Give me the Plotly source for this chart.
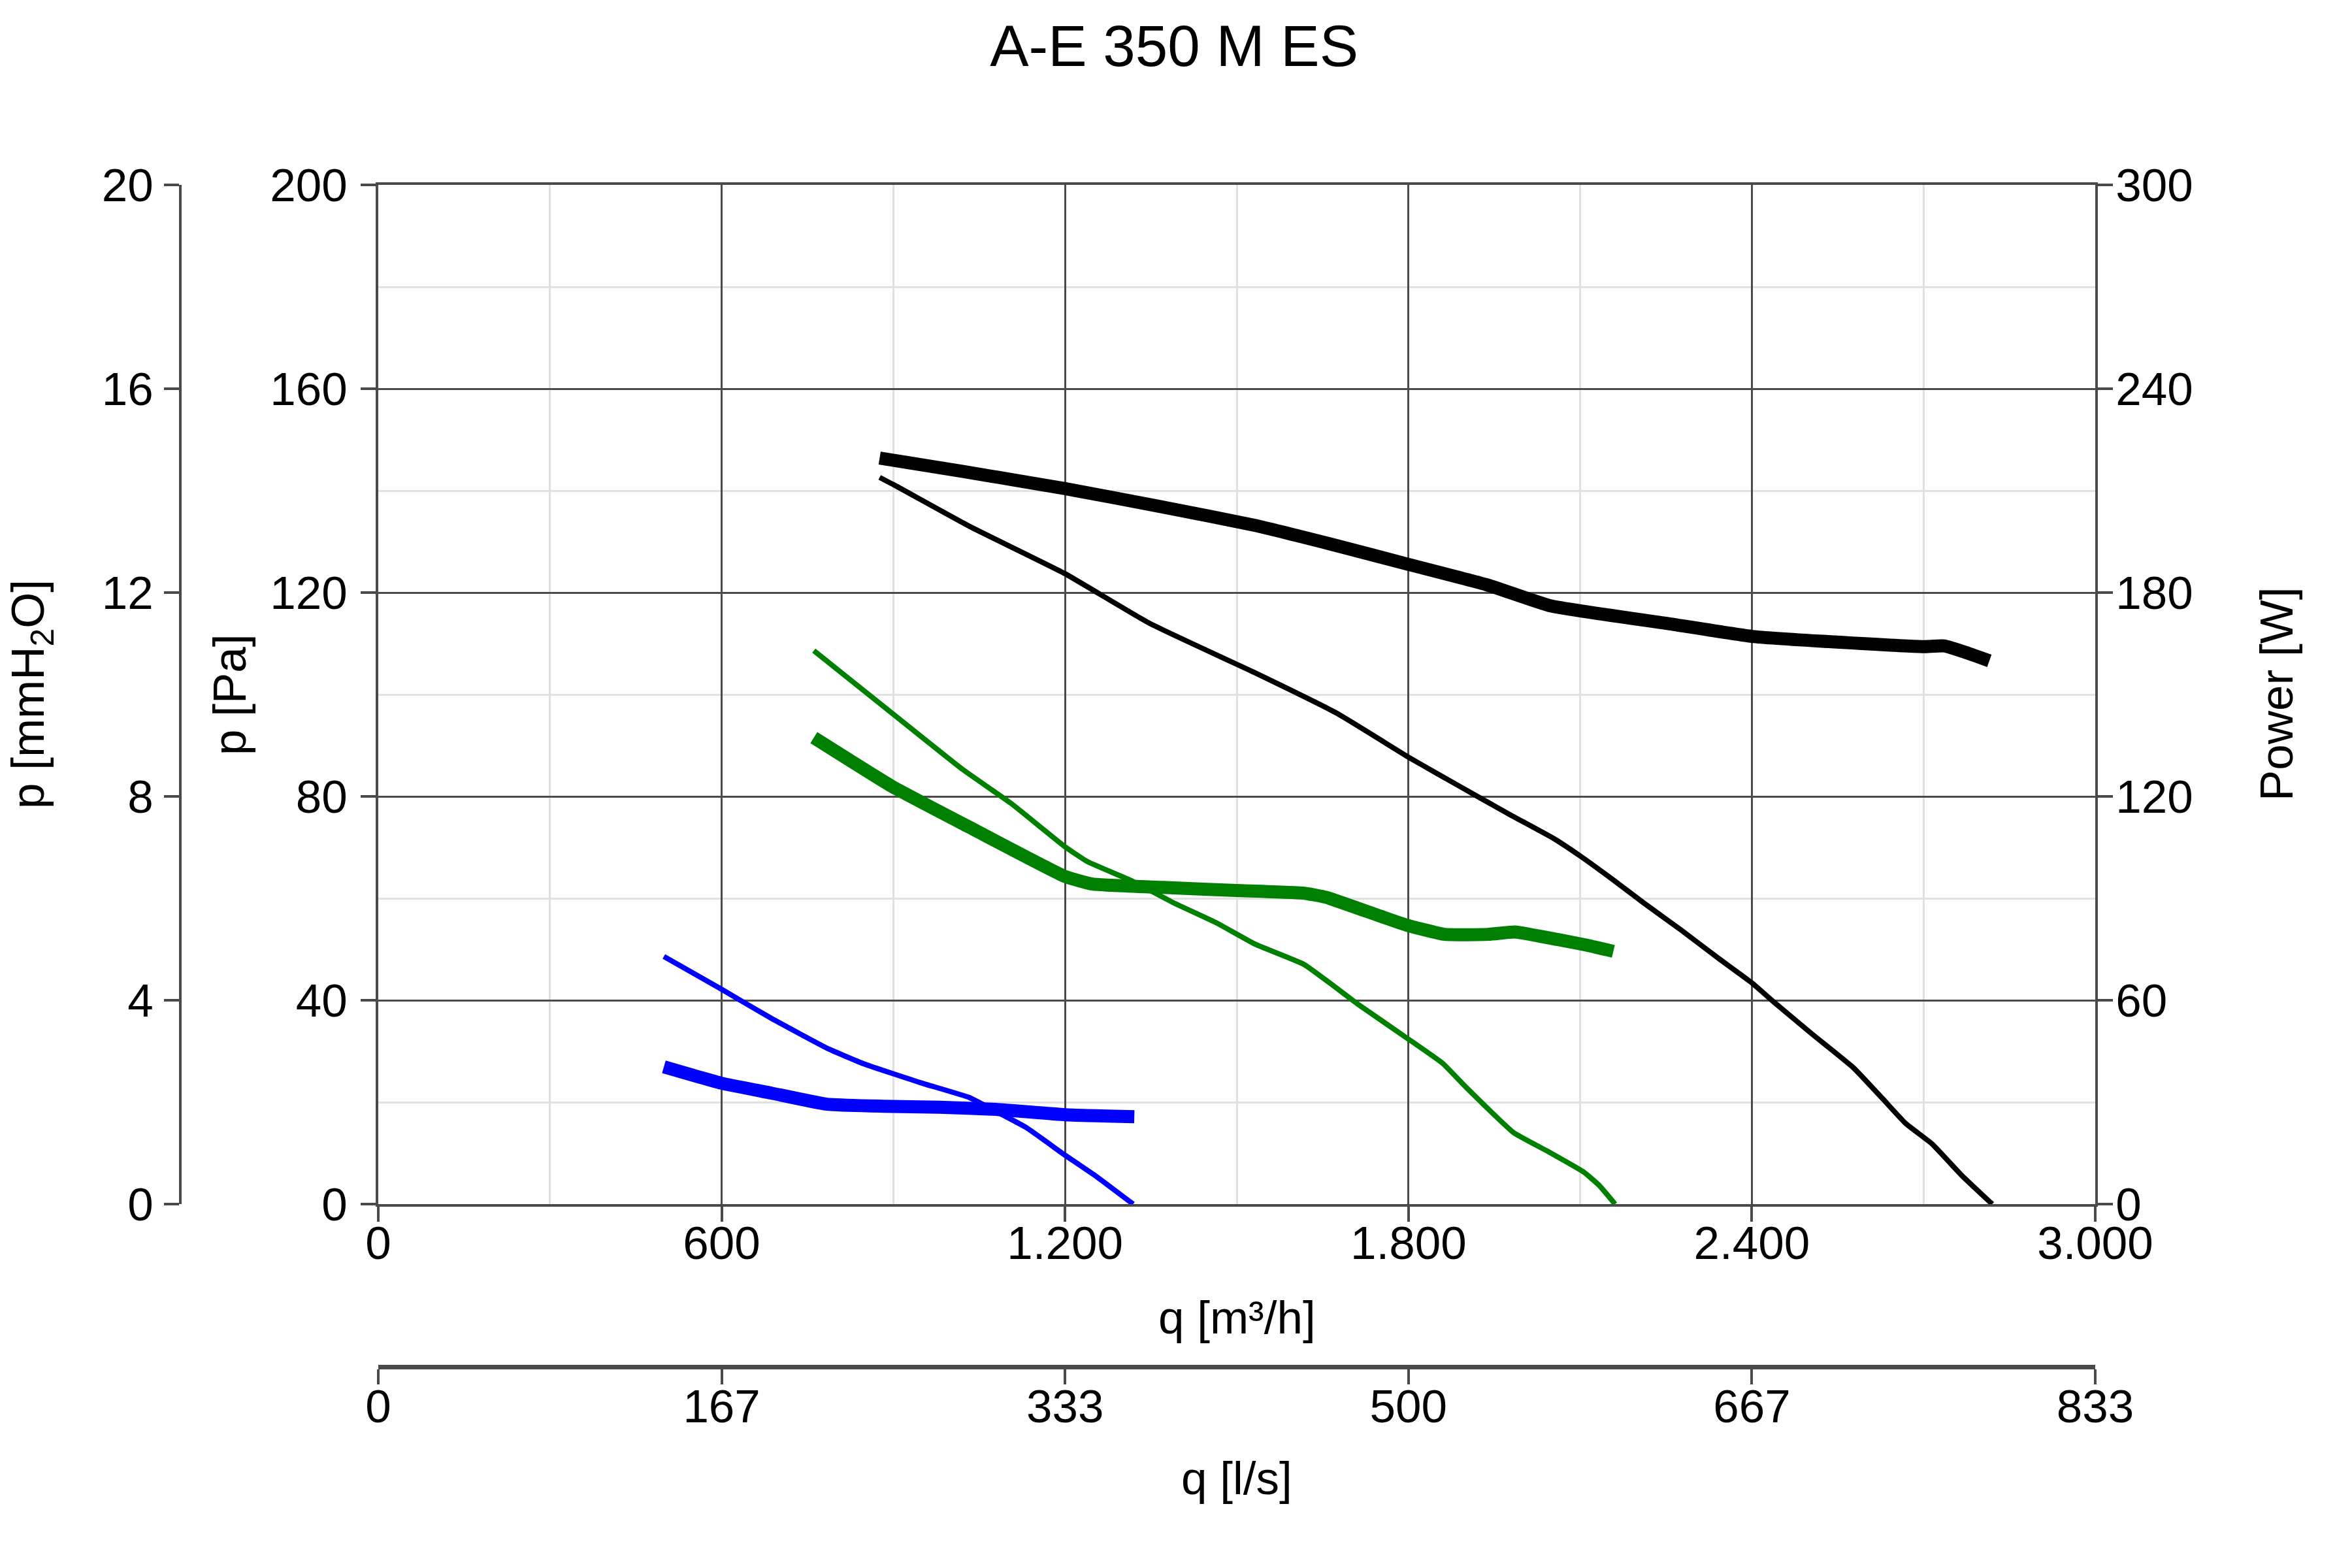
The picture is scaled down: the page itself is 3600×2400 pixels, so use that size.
import plotly.graph_objects as go

# ---------------- data ----------------
title_text = "A-E 350 M ES"

# thin curves: static pressure [Pa] vs flow [m3/h]
black_p_q = [876, 900, 1033, 1200, 1347, 1531, 1675, 1800, 1850, 1922, 1981, 2053, 2099,
             2152, 2211, 2276, 2342, 2399, 2440, 2506, 2578, 2630, 2669, 2715, 2767, 2820]
black_p = [142.6, 141.2, 133.0, 123.7, 114.0, 104.3, 96.3, 87.7, 84.5, 79.9, 76.2, 71.8, 68.4,
           64.1, 59.1, 53.8, 48.2, 43.5, 39.5, 33.3, 26.7, 20.5, 15.8, 11.8, 5.6, 0.0]

green_p_q = [761, 898, 1021, 1106, 1199, 1239, 1315, 1390, 1466, 1532, 1618, 1712, 1797,
             1860, 1900, 1984, 2046, 2106, 2133, 2161]
green_p = [108.6, 96.3, 85.3, 78.6, 70.2, 67.2, 63.5, 59.1, 55.1, 51.0, 47.0, 39.2, 32.6,
           27.6, 23.0, 14.0, 10.2, 6.3, 3.7, 0.0]

blue_p_q = [499, 599, 686, 784, 849, 948, 1033, 1079, 1131, 1200, 1255, 1319]
blue_p = [48.6, 42.2, 36.5, 30.6, 27.5, 23.8, 20.9, 18.2, 15.1, 9.6, 5.4, 0.0]

# thick curves: absorbed power [W] vs flow [m3/h]
black_w_q = [876, 1020, 1200, 1373, 1531, 1675, 1800, 1937, 2048, 2264, 2400, 2592, 2700,
             2736, 2775, 2815]
black_w = [219.6, 215.7, 210.6, 205.1, 199.8, 193.8, 188.3, 182.3, 176.1, 170.6, 167.1,
           165.0, 164.1, 164.3, 162.3, 159.9]

green_w_q = [761, 898, 1040, 1199, 1248, 1371, 1499, 1618, 1656, 1750, 1797, 1863, 1939,
             1986, 2060, 2112, 2158]
green_w = [137.3, 122.9, 110.3, 96.5, 94.2, 93.2, 92.3, 91.5, 90.3, 84.8, 82.1, 79.4, 79.4,
           80.1, 77.9, 76.2, 74.4]

blue_w_q = [499, 599, 686, 784, 882, 981, 1079, 1200, 1321]
blue_w = [40.4, 35.6, 32.7, 29.4, 28.8, 28.5, 27.9, 26.3, 25.7]

# axes ticks
q_ticks = [0, 600, 1200, 1800, 2400, 3000]
q_ticktext = ["0", "600", "1.200", "1.800", "2.400", "3.000"]
ls_ticks = [0, 166.67, 333.33, 500, 666.67, 833.33]
ls_ticktext = ["0", "167", "333", "500", "667", "833"]
pa_ticks = [0, 40, 80, 120, 160, 200]
mm_ticks = [0, 4, 8, 12, 16, 20]
w_ticks = [0, 60, 120, 180, 240, 300]

# ---------------- styling ----------------
W, H = 3600, 2400
X0, X1 = 579 / W, 3207 / W
Y0, Y1 = 1 - 1843 / H, 1 - 283 / H
FONT = "Liberation Sans, Arial, sans-serif"
FS = 71
AX = "#4a4a4a"
GRID = "#4a4a4a"
MINOR = "#e0e0e0"
THIN = 8
THICK = 20

fig = go.Figure()

def add(x, y, color, width, yaxis="y"):
    fig.add_trace(go.Scatter(x=x, y=y, mode="lines", xaxis="x", yaxis=yaxis,
                             line=dict(color=color, width=width, shape="spline",
                                       smoothing=0.4),
                             showlegend=False, hoverinfo="skip"))

add(blue_w_q, blue_w, "#0000ff", THICK, "y2")
add(green_w_q, green_w, "#008000", THICK, "y2")
add(black_w_q, black_w, "#000000", THICK, "y2")
add(blue_p_q, blue_p, "#0000ff", THIN)
add(green_p_q, green_p, "#008000", THIN)
add(black_p_q, black_p, "#000000", THIN)

# empty traces so that the secondary (l/s and mmH2O) axes are drawn
fig.add_trace(go.Scatter(x=[None], y=[None], xaxis="x2", yaxis="y", showlegend=False,
                         hoverinfo="skip"))
fig.add_trace(go.Scatter(x=[None], y=[None], xaxis="x", yaxis="y3", showlegend=False,
                         hoverinfo="skip"))

tickfont = dict(family=FONT, size=FS, color="#000000")
common = dict(showline=True, linecolor=AX, linewidth=4, ticks="outside", ticklen=23,
              tickwidth=4, tickcolor=AX, tickfont=tickfont, zeroline=False, fixedrange=True,
              automargin=False)

fig.update_layout(
    width=W, height=H, autosize=False,
    margin=dict(l=0, r=0, t=0, b=0, pad=0, autoexpand=False),
    paper_bgcolor="white", plot_bgcolor="white",
    font=dict(family=FONT, size=FS, color="#000000"),
    title=dict(text=title_text, x=0.4992, xanchor="center", xref="paper",
               y=1 - 70 / H, yref="container", yanchor="middle", automargin=False,
               font=dict(family=FONT, size=89, color="#000000")),
    xaxis=dict(domain=[X0, X1], range=[0, 3000], anchor="y", tickmode="array",
               tickvals=q_ticks, ticktext=q_ticktext, showgrid=True, gridcolor=GRID,
               gridwidth=3, mirror=True, ticklabelstandoff=-28,
               minor=dict(tickmode="linear", tick0=0, dtick=300, showgrid=True,
                          gridcolor=MINOR, gridwidth=3, ticks=""),
               **common),
    xaxis2=dict(overlaying="x", anchor="free", position=1 - 2092 / H, side="bottom",
                range=[0, 833.33], tickmode="array", tickvals=ls_ticks,
                ticktext=ls_ticktext, showgrid=False, ticklabelstandoff=-27,
                **{**common, "linewidth": 7}),
    yaxis=dict(domain=[Y0, Y1], range=[0, 200], anchor="x", tickmode="array",
               tickvals=pa_ticks, showgrid=True, gridcolor=GRID, gridwidth=3,
               mirror=True, ticklabelstandoff=6,
               minor=dict(tickmode="linear", tick0=0, dtick=20, showgrid=True,
                          gridcolor=MINOR, gridwidth=3, ticks=""),
               **common),
    yaxis2=dict(overlaying="y", side="right", anchor="x", range=[0, 300],
                tickmode="array", tickvals=w_ticks, showgrid=False,
                ticklabelstandoff=-10, **common),
    yaxis3=dict(overlaying="y", side="left", anchor="free", position=276 / W,
                range=[0, 20], tickmode="array", tickvals=mm_ticks, showgrid=False,
                ticklabelstandoff=2, **common),
)

ann = dict(xref="paper", yref="paper", showarrow=False, xanchor="center",
           yanchor="middle", font=dict(family=FONT, size=FS, color="#000000"))
ymid = 1 - 1063 / H
xmid = (X0 + X1) / 2
fig.add_annotation(text="q [m³/h]", x=xmid, y=1 - 2016 / H, **ann)
fig.add_annotation(text="q [l/s]", x=xmid, y=1 - 2262 / H, **ann)
fig.add_annotation(text="p [Pa]", x=351 / W, y=ymid, textangle=-90, **ann)
fig.add_annotation(text="p [mmH<sub>2</sub>O]", x=48 / W, y=ymid, textangle=-90, **ann)
fig.add_annotation(text="Power [W]", x=3484 / W, y=ymid, textangle=-90, **ann)

fig.write_html("out.html")
